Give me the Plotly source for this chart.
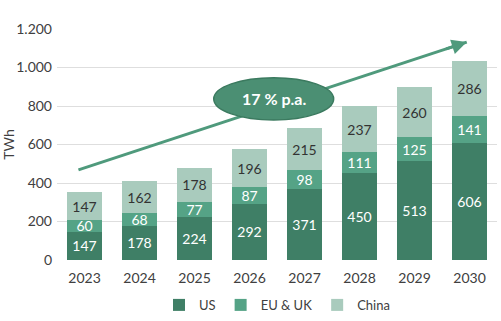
import plotly.graph_objects as go

years = ["2023", "2024", "2025", "2026", "2027", "2028", "2029", "2030"]
us = [147, 178, 224, 292, 371, 450, 513, 606]
eu_uk = [60, 68, 77, 87, 98, 111, 125, 141]
china = [147, 162, 178, 196, 215, 237, 260, 286]
series_names = ["US", "EU & UK", "China"]
colors = ["#3f7f66", "#55a386", "#a9cbbd"]
text_colors = ["#ffffff", "#ffffff", "#333333"]
growth_label = "17 % p.a."

fig = go.Figure()
for name, vals, col, tcol in zip(series_names, [us, eu_uk, china], colors, text_colors):
    fig.add_trace(go.Bar(
        x=years, y=vals, name=name, marker=dict(color=col, line=dict(width=0)),
        text=[str(v) for v in vals], textposition="inside", insidetextanchor="middle",
        textangle=0, constraintext="none",
        textfont=dict(family="Lato", size=14, color=tcol), cliponaxis=False,
    ))

# Trend arrow line (under ellipse)
x0, y0, x1, y1 = -0.11, 468, 6.95, 1132
fig.add_shape(type="line", xref="x", yref="y", x0=x0, y0=y0, x1=x1, y1=y1,
              line=dict(color="#4f9a7c", width=3), layer="above")
# Ellipse
fig.add_shape(type="circle", xref="x", yref="y", x0=2.35, x1=4.53, y0=727, y1=947,
              fillcolor="#4b8f73", line=dict(color="#3b7a5f", width=1.5), layer="above")
# Arrow head
fig.add_annotation(x=x1, y=y1, ax=x1 - 0.4, ay=y1 - 37.6, xref="x", yref="y",
                   axref="x", ayref="y", text="", showarrow=True, arrowhead=2,
                   arrowsize=1, arrowwidth=3, arrowcolor="#4f9a7c", standoff=0)
fig.add_annotation(x=3.44, y=837, xref="x", yref="y", text="<b>" + growth_label + "</b>",
                   showarrow=False, font=dict(family="Lato", size=16, color="#ffffff"))

fig.update_layout(
    barmode="stack", bargap=0.35, width=501, height=321,
    margin=dict(l=57, r=4, t=29, b=61, autoexpand=False),
    paper_bgcolor="white", plot_bgcolor="white",
    separators=",.",
    font=dict(family="Lato", size=14, color="#404040"),
    uniformtext=dict(mode="show", minsize=14),
    legend=dict(orientation="h", x=0.5, xanchor="center", yref="container", y=0.05,
                yanchor="middle", traceorder="normal",
                font=dict(family="Lato", size=13, color="#404040"),
                itemwidth=30, tracegroupgap=0),
    showlegend=True,
)
fig.update_yaxes(range=[0, 1200], dtick=200, tickformat=",d", showgrid=True,
                 gridcolor="#dedede", gridwidth=1, zeroline=False,
                 title=dict(text="TWh", font=dict(family="Lato", size=14, color="#404040"), standoff=4),
                 ticks="", ticklabelstandoff=4,
                 tickfont=dict(family="Lato", size=14, color="#404040"))
fig.update_xaxes(type="category", showgrid=False, ticks="", showline=False,
                 ticklabelstandoff=8,
                 tickfont=dict(family="Lato", size=14, color="#404040"))

fig.write_html("out.html")
